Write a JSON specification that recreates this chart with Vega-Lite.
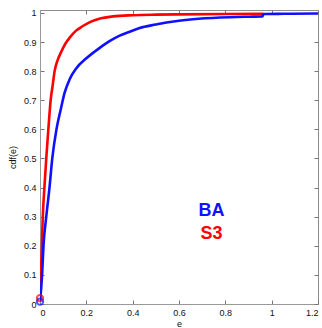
{
  "$schema": "https://vega.github.io/schema/vega-lite/v6.json",
  "width": 278,
  "height": 294,
  "autosize": "none",
  "padding": {"left": 40, "top": 10, "right": 4, "bottom": 24},
  "background": "white",
  "config": {
    "view": {"stroke": "#8c8c8c", "strokeWidth": 1},
    "font": "Liberation Sans",
    "axis": {"grid": false, "labelFont": "Liberation Sans", "titleFont": "Liberation Sans", "labelFontSize": 9, "titleFontSize": 9, "labelColor": "#111", "titleColor": "#111", "titleFontWeight": "normal", "domainColor": "#999", "tickColor": "#777", "tickSize": -4, "labelPadding": 8, "labelOverlap": false}
  },
  "datasets": {
    "curves": [
      {"e": 0, "cdf": 0.02, "s": "S3"},
      {"e": 0.004, "cdf": 0.1, "s": "S3"},
      {"e": 0.008, "cdf": 0.2, "s": "S3"},
      {"e": 0.012, "cdf": 0.3, "s": "S3"},
      {"e": 0.019, "cdf": 0.4, "s": "S3"},
      {"e": 0.027, "cdf": 0.5, "s": "S3"},
      {"e": 0.036, "cdf": 0.6, "s": "S3"},
      {"e": 0.046, "cdf": 0.7, "s": "S3"},
      {"e": 0.055, "cdf": 0.753, "s": "S3"},
      {"e": 0.063, "cdf": 0.8, "s": "S3"},
      {"e": 0.075, "cdf": 0.835, "s": "S3"},
      {"e": 0.092, "cdf": 0.867, "s": "S3"},
      {"e": 0.11, "cdf": 0.895, "s": "S3"},
      {"e": 0.128, "cdf": 0.915, "s": "S3"},
      {"e": 0.157, "cdf": 0.94, "s": "S3"},
      {"e": 0.185, "cdf": 0.955, "s": "S3"},
      {"e": 0.22, "cdf": 0.97, "s": "S3"},
      {"e": 0.26, "cdf": 0.981, "s": "S3"},
      {"e": 0.315, "cdf": 0.988, "s": "S3"},
      {"e": 0.4, "cdf": 0.992, "s": "S3"},
      {"e": 0.5, "cdf": 0.994, "s": "S3"},
      {"e": 0.6, "cdf": 0.995, "s": "S3"},
      {"e": 0.8, "cdf": 0.996, "s": "S3"},
      {"e": 0.963, "cdf": 0.997, "s": "S3"},
      {"e": 0, "cdf": 0.008, "s": "BA"},
      {"e": 0.009, "cdf": 0.1, "s": "BA"},
      {"e": 0.015, "cdf": 0.2, "s": "BA"},
      {"e": 0.027, "cdf": 0.3, "s": "BA"},
      {"e": 0.041, "cdf": 0.4, "s": "BA"},
      {"e": 0.053, "cdf": 0.5, "s": "BA"},
      {"e": 0.071, "cdf": 0.6, "s": "BA"},
      {"e": 0.09, "cdf": 0.67, "s": "BA"},
      {"e": 0.106, "cdf": 0.725, "s": "BA"},
      {"e": 0.128, "cdf": 0.772, "s": "BA"},
      {"e": 0.157, "cdf": 0.81, "s": "BA"},
      {"e": 0.2, "cdf": 0.844, "s": "BA"},
      {"e": 0.258, "cdf": 0.88, "s": "BA"},
      {"e": 0.3, "cdf": 0.903, "s": "BA"},
      {"e": 0.344, "cdf": 0.922, "s": "BA"},
      {"e": 0.387, "cdf": 0.935, "s": "BA"},
      {"e": 0.43, "cdf": 0.948, "s": "BA"},
      {"e": 0.5, "cdf": 0.96, "s": "BA"},
      {"e": 0.546, "cdf": 0.967, "s": "BA"},
      {"e": 0.6, "cdf": 0.973, "s": "BA"},
      {"e": 0.66, "cdf": 0.978, "s": "BA"},
      {"e": 0.777, "cdf": 0.984, "s": "BA"},
      {"e": 0.9, "cdf": 0.987, "s": "BA"},
      {"e": 0.96, "cdf": 0.988, "s": "BA"},
      {"e": 0.965, "cdf": 0.996, "s": "BA"},
      {"e": 1.05, "cdf": 0.997, "s": "BA"},
      {"e": 1.2, "cdf": 0.998, "s": "BA"}
    ],
    "starts": [
      {"e": 0, "cdf": 0.02, "s": "S3"},
      {"e": 0, "cdf": 0.008, "s": "BA"}
    ],
    "labels": [
      {"e": 0.74, "cdf": 0.321, "s": "BA"},
      {"e": 0.74, "cdf": 0.242, "s": "S3"}
    ]
  },
  "resolve": {"axis": {"x": "independent", "y": "independent"}},
  "layer": [
    {
      "data": {"name": "curves"},
      "mark": {"type": "line", "strokeWidth": 2.6, "clip": true, "interpolate": "monotone"},
      "encoding": {
        "x": {"field": "e", "type": "quantitative", "scale": {"domain": [0, 1.2], "nice": false, "zero": false}, "axis": {"values": [0, 0.2, 0.4, 0.6, 0.8, 1, 1.2], "format": "~g", "title": "e", "titlePadding": 2}},
        "y": {"field": "cdf", "type": "quantitative", "scale": {"domain": [0, 1.01], "nice": false}, "axis": {"values": [0, 0.1, 0.2, 0.3, 0.4, 0.5, 0.6, 0.7, 0.8, 0.9, 1], "format": "~g", "title": "cdf(e)", "titlePadding": 6}},
        "color": {"field": "s", "type": "nominal", "scale": {"domain": ["BA", "S3"], "range": ["#1010ff", "#ff0000"]}, "legend": null},
        "detail": {"field": "s"}
      }
    },
    {
      "data": {"name": "starts"},
      "mark": {"type": "point", "filled": false, "size": 40, "strokeWidth": 2, "clip": false},
      "encoding": {
        "x": {"field": "e", "type": "quantitative", "axis": {"orient": "top", "values": [0, 0.2, 0.4, 0.6, 0.8, 1, 1.2], "labels": false, "title": null, "domain": false}},
        "y": {"field": "cdf", "type": "quantitative", "axis": {"orient": "right", "values": [0, 0.1, 0.2, 0.3, 0.4, 0.5, 0.6, 0.7, 0.8, 0.9, 1], "labels": false, "title": null, "domain": false}},
        "color": {"field": "s", "type": "nominal", "legend": null}
      }
    },
    {
      "data": {"name": "labels"},
      "mark": {"type": "text", "fontSize": 18, "fontWeight": "bold", "font": "Liberation Sans", "align": "center", "baseline": "middle"},
      "encoding": {
        "x": {"field": "e", "type": "quantitative", "axis": null},
        "y": {"field": "cdf", "type": "quantitative", "axis": null},
        "text": {"field": "s"},
        "color": {"field": "s", "type": "nominal", "scale": {"domain": ["BA", "S3"], "range": ["#3333ff", "#ff0000"]}, "legend": null}
      }
    }
  ]
}
